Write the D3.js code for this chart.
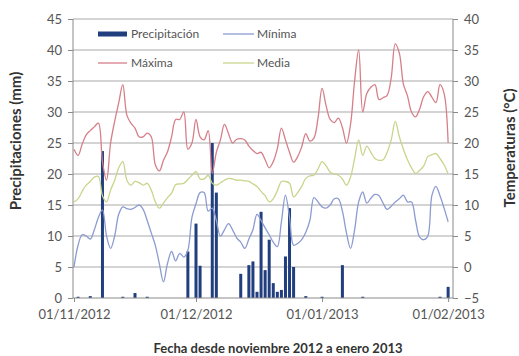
<!DOCTYPE html>
<html><head><meta charset="utf-8">
<script src="https://cdn.jsdelivr.net/npm/d3@7"></script>
<style>
html,body{margin:0;padding:0;background:#fff;}
svg{display:block;font-family:Lato,"Open Sans",sans-serif;}
</style></head>
<body><svg id="c" width="519" height="356"></svg>
<script>
// ---- data (daily, 01/11/2012 .. 01/02/2013) ----
const startDate = new Date(2012, 10, 1);
const precipitacion = [0,0.2,0,0,0.3,0,0,23.7,0,0, 0,0,0.2,0,0,0.8,0,0,0.2,0, 0,0,0,0,0,0,0,0,7.5,0,
  12,5.2,0,0,25,17,0,0,0,0, 0,3.9,0,5.3,5.9,1,13.9,4.5,9.4,2.4, 1,1.3,6.7,14.5,5,0,0,0.3,0,0,
  0,0.2,0,0,0,0,5.3,0,0,0, 0,0.2,0,0,0,0,0,0,0,0, 0,0,0,0,0,0,0,0,0,0, 0.2,0,1.8];
const maxima = [19,18,19.8,21.3,22,22.6,23.2,17,14,20, 23.5,26.5,29.4,24.5,23.2,22.4,21,21,21.6,21,
  16.5,15.5,17.2,18.6,21,23.8,23.8,25,19,20, 23.8,21,20.5,22,15.1,18.5,20.5,23,21.5,20,
  20.6,20.7,20.5,19.5,18.8,18.3,18.5,17.3,16,17, 19.1,22.4,20.5,18.5,16.9,17.8,19.4,21.5,20.3,20.8,
  24,28.8,26,23.8,23.3,24,22.5,20,23,30, 35,25,28,29,29.4,27,27.3,27.7,30.5,36,
  34.5,29.5,27.6,25,24.2,25.5,27.5,28.3,27.4,26.5, 29.4,28,20];
const media = [10.5,11,12.2,13.2,13.8,14.5,14.6,11.5,10.5,12.4, 14,16,17,14,13.2,13.8,13.6,13.2,13.5,12.4,
  10.5,9.5,10.3,11.2,11.9,13.3,13.4,13.5,14.1,14.8, 15.4,14.2,14.2,14.8,13.5,13.2,13.6,14,14.3,14.2,
  14,14,13.9,13.8,13.4,13,12.2,11.5,10.5,11, 12.3,13.8,13.8,13.5,11.3,12,13,14.3,14.7,14.8,
  15.8,17,16.3,15.3,15,14.8,14.2,13.2,14.5,17.5, 20.5,18,19.5,18.5,17.5,17.2,17.3,18.5,20.5,23.5,
  21,19,17.3,16,15.1,15.6,16.3,17.8,18.1,18.3, 17.5,16.5,15];
const minima = [0,3.5,5.2,5,4.5,6,8,9.2,5,3, 5,8.5,9.7,9.4,9.3,9.6,10,9.3,7.5,5.5,
  3.5,0.5,-2.4,0.6,2.5,1,2.2,1.6,2.7,8, 10.2,12,12,9,9.5,7.5,5,6,7,6,
  4.7,4,3,4.5,6,8.5,7.5,6.3,5.2,4, 3.3,7.3,11.6,8,3.5,3.8,4.4,5.6,7.5,11.2,
  10.5,9.7,9.5,10,11,11,9,5.5,3,6, 10.5,12.1,10.3,11.1,11.7,11.5,10.3,9.3,9.8,10.5,
  11,11.6,10.5,10.5,7.5,4.8,4.4,5,11.5,13,11.5,9.5,7.3];
const precipTicks = [0,5,10,15,20,25,30,35,40,45];
const tempTicks = [-5,0,5,10,15,20,25,30,35,40];
const dateTicks = [new Date(2012,10,1), new Date(2012,11,1), new Date(2013,0,1), new Date(2013,1,1)];
const legendLabels = ["Precipitación","Mínima","Máxima","Media"];

const colors = {prec:"#213f7e", min:"#8c9bd0", max:"#d57f88", med:"#c9d48c"};
const dates = precipitacion.map((_, i) => d3.timeDay.offset(startDate, i));

const svg = d3.select("#c");
const L = 73, R = 453, T = 19, B = 298;
const x = d3.scaleTime().domain([startDate, new Date(2013,1,2)]).range([74, 452.2]);
const yP = d3.scaleLinear().domain([0,45]).range([B,T]);
const yT = d3.scaleLinear().domain([-5,40]).range([B,T]);

// gridlines
svg.append("g").selectAll("line").data(precipTicks.slice(1)).join("line")
  .attr("x1", L).attr("x2", R).attr("y1", d=>yP(d)).attr("y2", d=>yP(d))
  .attr("stroke", "#a9a9a9").attr("stroke-width", 1);

// legend
const lg = svg.append("g").attr("font-size", 12).attr("fill", "#555");
lg.append("rect").attr("x", 98).attr("y", 31.5).attr("width", 29).attr("height", 5).attr("fill", colors.prec);
lg.append("text").attr("x", 131).attr("y", 38).text(legendLabels[0]);
lg.append("line").attr("x1", 223).attr("x2", 254).attr("y1", 34).attr("y2", 34).attr("stroke", colors.min).attr("stroke-width", 1.3);
lg.append("text").attr("x", 257).attr("y", 38).text(legendLabels[1]);
lg.append("line").attr("x1", 98).attr("x2", 127).attr("y1", 63).attr("y2", 63).attr("stroke", colors.max).attr("stroke-width", 1.3);
lg.append("text").attr("x", 131).attr("y", 67).text(legendLabels[2]);
lg.append("line").attr("x1", 223).attr("x2", 254).attr("y1", 63).attr("y2", 63).attr("stroke", colors.med).attr("stroke-width", 1.3);
lg.append("text").attr("x", 257).attr("y", 67).text(legendLabels[3]);

// bars
const bw = 3;
svg.append("g").selectAll("rect").data(precipitacion.map((v,i)=>({d:dates[i], v})).filter(o=>o.v>0)).join("rect")
  .attr("x", o => x(o.d) - bw/2).attr("width", bw)
  .attr("y", o => yP(o.v)).attr("height", o => B - yP(o.v))
  .attr("fill", colors.prec);

// lines
const line = d3.line().x((v,i)=>x(dates[i])).y(v=>yT(v)).curve(d3.curveCatmullRom.alpha(0.5));
[[minima, colors.min],[maxima, colors.max],[media, colors.med]].forEach(([arr,c]) => {
  svg.append("path").attr("d", line(arr)).attr("fill","none").attr("stroke", c).attr("stroke-width", 1.3);
});

// axes
const axL = svg.append("g").attr("transform", `translate(${L},0)`)
  .call(d3.axisLeft(yP).tickValues(precipTicks).tickSize(5).tickPadding(6));
const axR = svg.append("g").attr("transform", `translate(${R},0)`)
  .call(d3.axisRight(yT).tickValues(tempTicks).tickSize(5).tickPadding(6));
const axB = svg.append("g").attr("transform", `translate(0,${B})`)
  .call(d3.axisBottom(x).tickValues(dateTicks).tickFormat(d3.timeFormat("%d/%m/%Y")).tickSize(4).tickPadding(8));
[axL, axR, axB].forEach(a => {
  a.selectAll("path.domain").attr("stroke", "#8a8a8a");
  a.selectAll(".tick line").attr("stroke", "#8a8a8a");
  a.selectAll("text").attr("fill", "#555").attr("font-size", 13).attr("font-family", "Lato, sans-serif");
});
axL.select("path.domain").attr("d", `M0,${B}V${T}`);
axR.select("path.domain").attr("d", `M0,${B}V${T}`);
axB.select("path.domain").attr("d", `M${L},0H${R}`);

// titles
svg.append("text").attr("transform", "translate(21,141) rotate(-90)").attr("text-anchor","middle")
  .attr("font-weight","bold").attr("font-size", 15).attr("fill", "#333").text("Precipitaciones (mm)");
svg.append("text").attr("transform", "translate(515,148) rotate(-90)").attr("text-anchor","middle")
  .attr("font-weight","bold").attr("font-size", 15).attr("fill", "#333").text("Temperaturas (°C)");
svg.append("text").attr("x", 278).attr("y", 353).attr("text-anchor","middle")
  .attr("font-weight","bold").attr("font-size", 13).attr("fill", "#333").text("Fecha desde noviembre 2012 a enero 2013");
</script></body></html>
